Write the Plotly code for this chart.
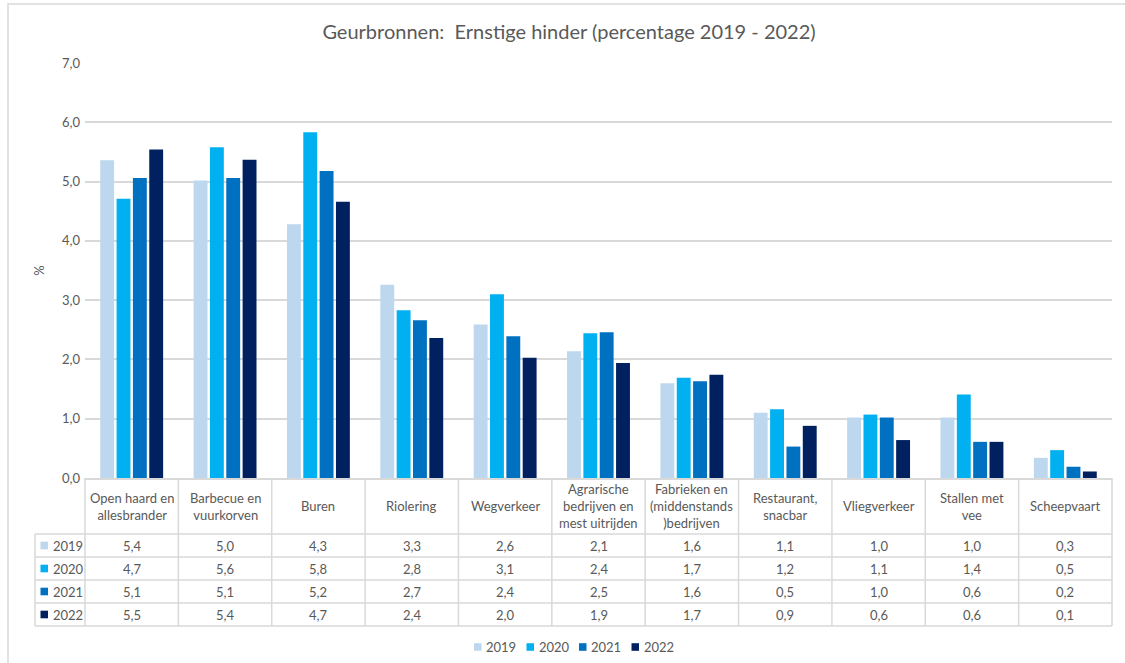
import plotly.graph_objects as go

categories = [
    "Open haard en<br>allesbrander",
    "Barbecue en<br>vuurkorven",
    "Buren",
    "Riolering",
    "Wegverkeer",
    "Agrarische<br>bedrijven en<br>mest uitrijden",
    "Fabrieken en<br>(middenstands<br>)bedrijven",
    "Restaurant,<br>snacbar",
    "Vliegverkeer",
    "Stallen met<br>vee",
    "Scheepvaart",
]
years = ["2019", "2020", "2021", "2022"]
v2019 = [5.36, 5.02, 4.28, 3.26, 2.59, 2.14, 1.60, 1.10, 1.02, 1.02, 0.34]
v2020 = [4.71, 5.58, 5.83, 2.83, 3.10, 2.44, 1.69, 1.16, 1.07, 1.41, 0.47]
v2021 = [5.06, 5.06, 5.18, 2.66, 2.39, 2.46, 1.63, 0.53, 1.02, 0.61, 0.19]
v2022 = [5.54, 5.37, 4.66, 2.36, 2.03, 1.94, 1.74, 0.88, 0.64, 0.61, 0.11]
series = [v2019, v2020, v2021, v2022]
colors = ["#BDD7EE", "#00B0F0", "#0070C0", "#002060"]

font_family = "Lato, 'Open Sans', sans-serif"
txt = "#595959"
grid = "#D9D9D9"

# plot area in pixels
L, R, T, B = 85, 1112, 63, 478


def px(x):
    return (x - L) / (R - L)


def py(y):
    return (B - y) / (B - T)


fig = go.Figure()
idx = list(range(len(categories)))
for yr, vals, c in zip(years, series, colors):
    fig.add_trace(go.Bar(x=idx, y=vals, name=yr, marker_color=c,
                         marker_line_width=0, hoverinfo="y+name",
                         showlegend=False))

shapes = []
ann = []

# outer chart border
shapes.append(dict(type="rect", xref="paper", yref="paper",
                   x0=px(8), x1=px(1135), y0=py(4), y1=py(675),
                   line=dict(color=grid, width=1.5), layer="below"))

# table grid
row_tops = [534, 557, 580, 603, 626]
for y in row_tops:
    shapes.append(dict(type="line", xref="paper", yref="paper",
                       x0=px(35), x1=px(R), y0=py(y), y1=py(y),
                       line=dict(color=grid, width=1.5)))
shapes.append(dict(type="line", xref="paper", yref="paper",
                   x0=px(35), x1=px(35), y0=py(534), y1=py(626),
                   line=dict(color=grid, width=1.5)))
cw = (R - L) / len(categories)
for k in range(len(categories) + 1):
    xx = L + k * cw
    shapes.append(dict(type="line", xref="paper", yref="paper",
                       x0=px(xx), x1=px(xx), y0=py(B), y1=py(626),
                       line=dict(color=grid, width=1.5)))

# category labels in header row
for i, c in enumerate(categories):
    ann.append(dict(x=i, xref="x", y=py(506), yref="paper", text=c,
                    showarrow=False, font=dict(size=13, color=txt),
                    yanchor="middle"))

# table values
for r, (yr, vals, c) in enumerate(zip(years, series, colors)):
    yc = row_tops[r] + 11.5
    shapes.append(dict(type="rect", xref="paper", yref="paper",
                       x0=px(40.5), x1=px(48), y0=py(yc - 3.8), y1=py(yc + 3.8),
                       fillcolor=c, line=dict(width=0)))
    ann.append(dict(x=px(51), xref="paper", y=py(yc), yref="paper", text=yr,
                    showarrow=False, xanchor="left", yanchor="middle",
                    font=dict(size=13, color=txt)))
    for i, v in enumerate(vals):
        ann.append(dict(x=i, xref="x", y=py(yc), yref="paper",
                        text=f"{v:.1f}".replace(".", ","),
                        showarrow=False, yanchor="middle",
                        font=dict(size=13, color=txt)))

# bottom legend
for k, (yr, c) in enumerate(zip(years, colors)):
    x0 = 474 + k * 52.5
    shapes.append(dict(type="rect", xref="paper", yref="paper",
                       x0=px(x0), x1=px(x0 + 7.5), y0=py(647 - 3.8), y1=py(647 + 3.8),
                       fillcolor=c, line=dict(width=0)))
    ann.append(dict(x=px(x0 + 10), xref="paper", y=py(647), yref="paper", text=yr,
                    showarrow=False, xanchor="left", yanchor="middle",
                    font=dict(size=13, color=txt)))

fig.update_layout(
    width=1125, height=663,
    margin=dict(l=L, r=1125 - R, t=T, b=663 - B),
    paper_bgcolor="white", plot_bgcolor="white",
    font=dict(family=font_family, color=txt, size=13),
    separators=",.",
    showlegend=False,
    title=dict(text="Geurbronnen:\u00a0 Ernstige hinder (percentage 2019 - 2022)",
               x=569 / 1125, xanchor="center", y=1 - 32 / 663, yanchor="middle",
               font=dict(size=20, color=txt)),
    barmode="group", bargap=0.3, bargroupgap=0.15,
    xaxis=dict(range=[-0.5, len(categories) - 0.5], showticklabels=False,
               showgrid=False, zeroline=False, showline=True,
               linecolor=grid, linewidth=1.5, fixedrange=True),
    yaxis=dict(range=[0, 7], dtick=1, tickformat=".1f", showgrid=True,
               gridcolor=grid, gridwidth=1.5, zeroline=False, automargin=False,
               ticks="", ticklabelstandoff=4, tickfont=dict(size=13, color=txt),
               title=dict(text="%", standoff=14, font=dict(size=13, color=txt))),
    shapes=shapes, annotations=ann,
)

fig.write_html("out.html", config={"displayModeBar": False},
               post_script="document.body.style.margin='0';")
